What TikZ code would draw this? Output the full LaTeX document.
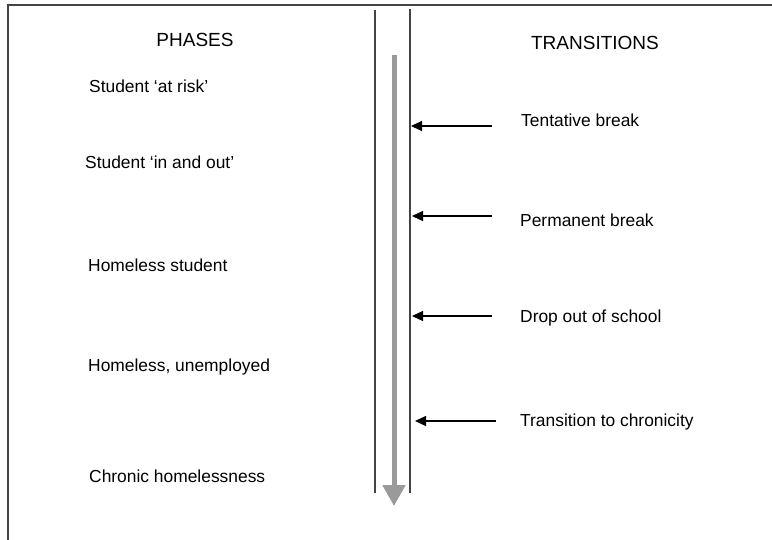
\documentclass[tikz,border=0pt]{standalone}
\usepackage{fontspec}
\setmainfont{Liberation Sans}
\usetikzlibrary{arrows.meta}
\definecolor{framegray}{HTML}{444444}
\definecolor{flowgray}{HTML}{9A9A9A}
\tikzset{
  phase/.style={anchor=base west, inner sep=0pt, font=\fontsize{17.4}{20}\selectfont},
  heading/.style={anchor=base, inner sep=0pt, font=\fontsize{19}{22}\selectfont},
  rail/.style={draw=framegray, line width=1.5pt},
  frame/.style={draw=framegray, line width=1.6pt},
  pointer/.style={draw=black, line width=1.2pt, -{Triangle[length=11pt,width=10pt]}},
  flow/.style={draw=flowgray, line width=5pt, -{Triangle[length=21pt,width=22pt]}}
}
\begin{document}
\begin{tikzpicture}[x=1pt,y=-1pt]
\useasboundingbox (0,0) rectangle (772,539);
% frame (only top and left edges inside the picture)
\draw[frame] (8,560) -- (8,5) -- (790,5);
% rails
\coordinate (railLtop) at (375,10);
\coordinate (railLbot) at (375,493);
\coordinate (railRtop) at (410,9);
\coordinate (railRbot) at (410,493);
\draw[rail] (railLtop) -- (railLbot);
\draw[rail] (railRtop) -- (railRbot);
% big grey arrow
\coordinate (flowtop) at (394,55);
\coordinate (flowtip) at (394,506);
\draw[flow] (flowtop) -- (flowtip);
% headings
\node[heading] (hphases) at (195,46.5) {PHASES};
\node[heading] (htrans) at (595,49.5) {TRANSITIONS};
% phases
\node[phase] (p1) at (89,92.5) {Student ‘at risk’};
\node[phase] (p2) at (85,168.3) {Student ‘in and out’};
\node[phase] (p3) at (88,271.7) {Homeless student};
\node[phase] (p4) at (88,371.7) {Homeless, unemployed};
\node[phase] (p5) at (89,482.7) {Chronic homelessness};
% transitions
\node[phase] (t1) at (521,126.5) {Tentative break};
\node[phase] (t2) at (520,226) {Permanent break};
\node[phase] (t3) at (520,322.5) {Drop out of school};
\node[phase] (t4) at (520,426) {Transition to chronicity};
% pointer arrows
\coordinate (a1s) at (492,126);
\coordinate (a1e) at (411,126);
\coordinate (a2s) at (492,216);
\coordinate (a2e) at (412,216);
\coordinate (a3s) at (492,316);
\coordinate (a3e) at (412,316);
\coordinate (a4s) at (496,421);
\coordinate (a4e) at (415,421);
\draw[pointer] (a1s) -- (a1e);
\draw[pointer] (a2s) -- (a2e);
\draw[pointer] (a3s) -- (a3e);
\draw[pointer] (a4s) -- (a4e);
\end{tikzpicture}
\end{document}
